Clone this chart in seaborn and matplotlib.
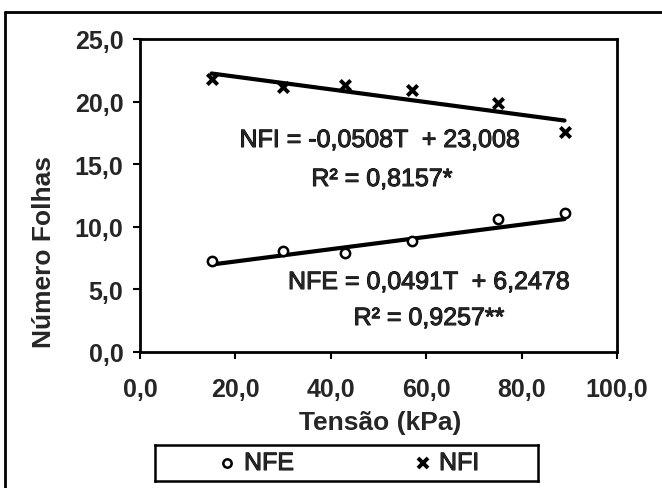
import matplotlib
matplotlib.use("Agg")
import matplotlib.pyplot as plt
import matplotlib.patheffects as pe
import numpy as np
import pandas as pd
import seaborn as sns

# Leaf counts against soil water tension
tensao = [15, 30, 43, 57, 75, 89]
nfe = [7.3, 8.1, 7.9, 8.9, 10.6, 11.1]
nfi = [21.8, 21.2, 21.3, 20.9, 19.9, 17.6]

# Fitted linear trends (slope, intercept) and R²
nfe_coef = (0.0491, 6.2478)
nfi_coef = (-0.0508, 23.008)
nfe_r2 = "0,9257**"
nfi_r2 = "0,8157*"

x_ticks = [0, 20, 40, 60, 80, 100]
y_ticks = [0, 5, 10, 15, 20, 25]


def fmt(v):
    return f"{v:.1f}".replace(".", ",")


sns.set_style("ticks")
plt.rcParams["font.family"] = ["Liberation Sans", "DejaVu Sans"]

W, H = 662, 489
fig = plt.figure(figsize=(W / 100, H / 100), dpi=100)
ax = fig.add_axes([140 / W, (H - 353) / H, (617 - 140) / W, (353 - 40) / H])

df = pd.DataFrame({"T": tensao, "NFE": nfe, "NFI": nfi})

# trend lines over the measured range
t_line = np.array([min(tensao), max(tensao)])
trend = pd.DataFrame({
    "T": t_line,
    "NFE": nfe_coef[0] * t_line + nfe_coef[1],
    "NFI": nfi_coef[0] * t_line + nfi_coef[1],
})
sns.lineplot(data=trend, x="T", y="NFE", ax=ax, color="black", lw=3, legend=False)
sns.lineplot(data=trend, x="T", y="NFI", ax=ax, color="black", lw=3, legend=False)

sns.scatterplot(data=df, x="T", y="NFE", ax=ax, marker="o", s=45,
                facecolor="white", edgecolor="black", linewidth=1.8, zorder=3)
sns.scatterplot(data=df, x="T", y="NFI", ax=ax, marker="x", s=55,
                color="black", linewidth=2.8, zorder=3)

ax.set_xlim(0, 100)
ax.set_ylim(0, 25)
ax.set_xticks(x_ticks)
ax.set_xticklabels([fmt(v) for v in x_ticks])
ax.set_yticks(y_ticks)
ax.set_yticklabels([fmt(v) for v in y_ticks])
ax.tick_params(axis="both", direction="out", length=5, width=1.5,
               labelsize=18, color="black")
ax.tick_params(axis="x", pad=13)
ax.tick_params(axis="y", pad=7)
for lab in ax.get_xticklabels() + ax.get_yticklabels():
    lab.set_fontweight("bold")
for sp in ax.spines.values():
    sp.set_visible(True)
    sp.set_linewidth(2)
    sp.set_color("black")

ax.set_xlabel("Tensão (kPa)", fontsize=19, fontweight="bold")
ax.set_ylabel("Número Folhas", fontsize=19, fontweight="bold")
ax.xaxis.set_label_coords((380 - 140) / 477, (353 - 423) / 313)
ax.xaxis.label.set_va("center")
ax.yaxis.set_label_coords((44 - 140) / 477, (353 - 252) / 313)
ax.yaxis.label.set_va("center")

heavy = [pe.withStroke(linewidth=0.7, foreground="black")]
eq_kw = dict(transform=fig.transFigure, ha="center", va="center", fontsize=18,
             path_effects=heavy)
fig.text(380 / W, 1 - 141 / H,
         f"NFI = {nfi_coef[0]:.4f}T  + {nfi_coef[1]:.3f}".replace(".", ","), **eq_kw)
fig.text(382 / W, 1 - 180 / H, f"R² = {nfi_r2}", **eq_kw)
fig.text(429 / W, 1 - 283 / H,
         f"NFE = {nfe_coef[0]:.4f}T  + {nfe_coef[1]:.4f}".replace(".", ","), **eq_kw)
fig.text(429 / W, 1 - 319 / H, f"R² = {nfe_r2}", **eq_kw)

# legend box below the axis
lax = fig.add_axes([155 / W, (H - 482) / H, (538 - 155) / W, (482 - 446) / H])
lax.set_xlim(155, 538)
lax.set_ylim(482, 446)
lax.set_xticks([])
lax.set_yticks([])
for sp in lax.spines.values():
    sp.set_linewidth(1.8)
    sp.set_color("black")
lax.plot([227], [464], marker="o", ms=6, mfc="white", mec="black", mew=1.8, ls="none")
lax.plot([423], [464], marker="x", ms=7, color="black", mew=2.8, ls="none")
lax.text(244, 464, "NFE", fontsize=18, va="center", ha="left", path_effects=heavy)
lax.text(439, 464, "NFI", fontsize=18, va="center", ha="left", path_effects=heavy)

# outer chart frame (left and top edges)
fig.add_artist(plt.Line2D([5 / W, 5 / W], [0, 1 - 13 / H], color="black", lw=2,
                          transform=fig.transFigure))
fig.add_artist(plt.Line2D([5 / W, 1], [1 - 13 / H, 1 - 13 / H], color="black", lw=2,
                          transform=fig.transFigure))

fig.savefig("out.png", dpi=100)
